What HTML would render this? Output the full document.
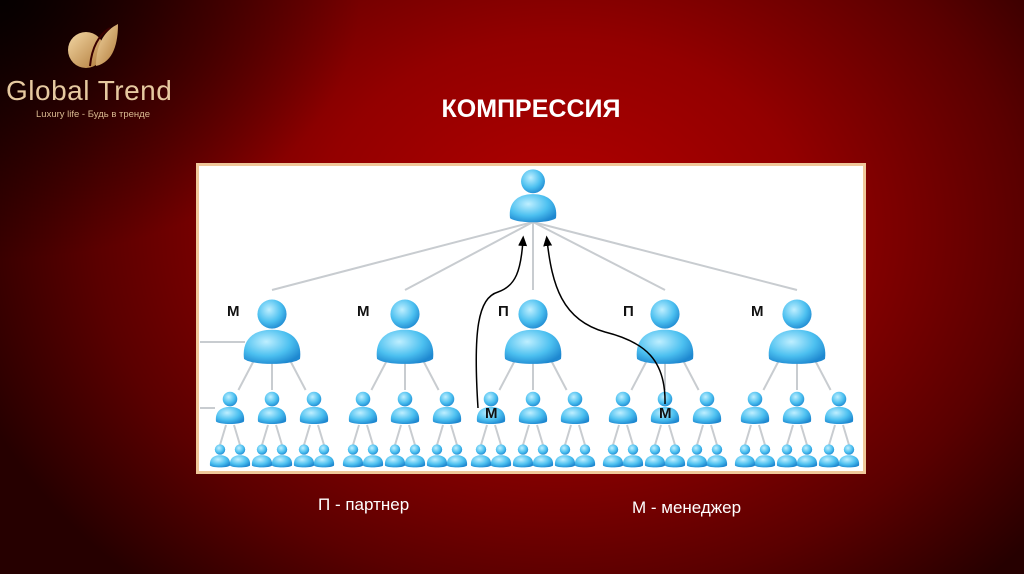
<!DOCTYPE html>
<html><head><meta charset="utf-8"><style>
html,body{margin:0;padding:0}
body{width:1024px;height:574px;overflow:hidden;position:relative;font-family:"Liberation Sans",sans-serif;
background:radial-gradient(ellipse 620px 480px at 560px 230px,#b30000 0%,#930000 40%,#5a0000 75%,#260000 100%);}
.bg2{position:absolute;left:0;top:0;width:1024px;height:574px;background:radial-gradient(ellipse 360px 260px at 0 0,rgba(0,0,0,.85),rgba(0,0,0,0));}
.t{position:absolute;color:#fff}
</style></head><body>
<div class="bg2"></div>
<svg style="position:absolute;left:66px;top:22px" width="54" height="50" viewBox="0 0 54 50">
<defs><linearGradient id="g" x1="0" y1="0" x2="1" y2="1"><stop offset="0" stop-color="#f3d7a4"/><stop offset="1" stop-color="#b07a3a"/></linearGradient></defs>
<circle cx="20" cy="28" r="18" fill="url(#g)"/>
<path d="M30 44 C30 20 40 8 52 2 C52 20 48 40 30 44Z" fill="url(#g)"/>
<path d="M24 44 C26 24 34 12 44 6" stroke="#3a0000" stroke-width="2" fill="none"/>
</svg>
<div class="t" style="left:6px;top:75px;font-size:28px;color:#e6c9a0;letter-spacing:0.5px">Global Trend</div>
<div class="t" style="left:36px;top:109px;font-size:9.5px;color:#d9b990">Luxury life - Будь в тренде</div>
<div class="t" style="left:0;width:1062px;text-align:center;top:95px;font-size:25px;font-weight:bold">КОМПРЕССИЯ</div>
<div style="position:absolute;left:196px;top:163px;width:664px;height:305px;background:#fff;border:3px solid #f0c89a"></div>
<svg id="s" style="position:absolute;left:0;top:0" width="1024" height="574">
<defs>
<radialGradient id="pg" cx="0.4" cy="0.35" r="0.7"><stop offset="0" stop-color="#bfefff"/><stop offset="0.6" stop-color="#4cc0f0"/><stop offset="1" stop-color="#1e88d0"/></radialGradient>
<marker id="ah" markerWidth="8" markerHeight="8" refX="4" refY="4" orient="auto"><path d="M0,1 L7,4 L0,7Z" fill="#000"/></marker>
</defs>
<g id="lines" stroke="#c8ccd0" stroke-width="2"></g>
<g id="icons"></g>
<path d="M478 408 C473 330 478 298 498 292 C516 286 521 270 523 240" stroke="#000" stroke-width="1.5" fill="none" marker-end="url(#ah)"/>
<path d="M665 404 C666 360 645 342 605 332 C562 320 552 285 547 240" stroke="#000" stroke-width="1.5" fill="none" marker-end="url(#ah)"/>
<g font-family="Liberation Sans,sans-serif" font-weight="bold" font-size="15" fill="#111">
<text x="227" y="316">М</text><text x="357" y="316">М</text><text x="498" y="316">П</text><text x="623" y="316">П</text><text x="751" y="316">М</text>
<text x="485" y="418">М</text><text x="659" y="418">М</text>
</g>
</svg>
<div class="t" style="left:318px;top:495px;font-size:17px">П - партнер</div>
<div class="t" style="left:632px;top:498px;font-size:17px">М - менеджер</div>
<script>
var ns="http://www.w3.org/2000/svg",L=document.getElementById('lines'),I=document.getElementById('icons');
function ln(a,b,c,d){var e=document.createElementNS(ns,'line');e.setAttribute('x1',a);e.setAttribute('y1',b);e.setAttribute('x2',c);e.setAttribute('y2',d);L.appendChild(e);}
function ic(x,y,w){var g=document.createElementNS(ns,'g');var s=w/50;
g.innerHTML='<g transform="translate('+x+','+y+') scale('+s+')"><path d="M-25 24 C-27 8 -18 -2 0 -2 C18 -2 27 8 25 24 C18 30 -18 30 -25 24Z" fill="url(#pg)"/><circle cx="0" cy="-16" r="13" fill="url(#pg)"/></g>';I.appendChild(g);}
ic(533,196,46);
var mx=[272,405,533,665,797];
mx.forEach(function(x){ln(533,222,x,290);});
ln(200,342,245,342);ln(200,408,215,408);
mx.forEach(function(x){
 ic(x,332,56);
 [-42,0,42].forEach(function(o){var cx=x+o;ln(x+o*0.45,362,cx-o*0.2,390);
  ic(cx,408,28);
  [-10,10].forEach(function(p){ln(cx+p*0.4,425,cx+p,445);ic(cx+p,456,20);});
 });
});
</script>
</body></html>
